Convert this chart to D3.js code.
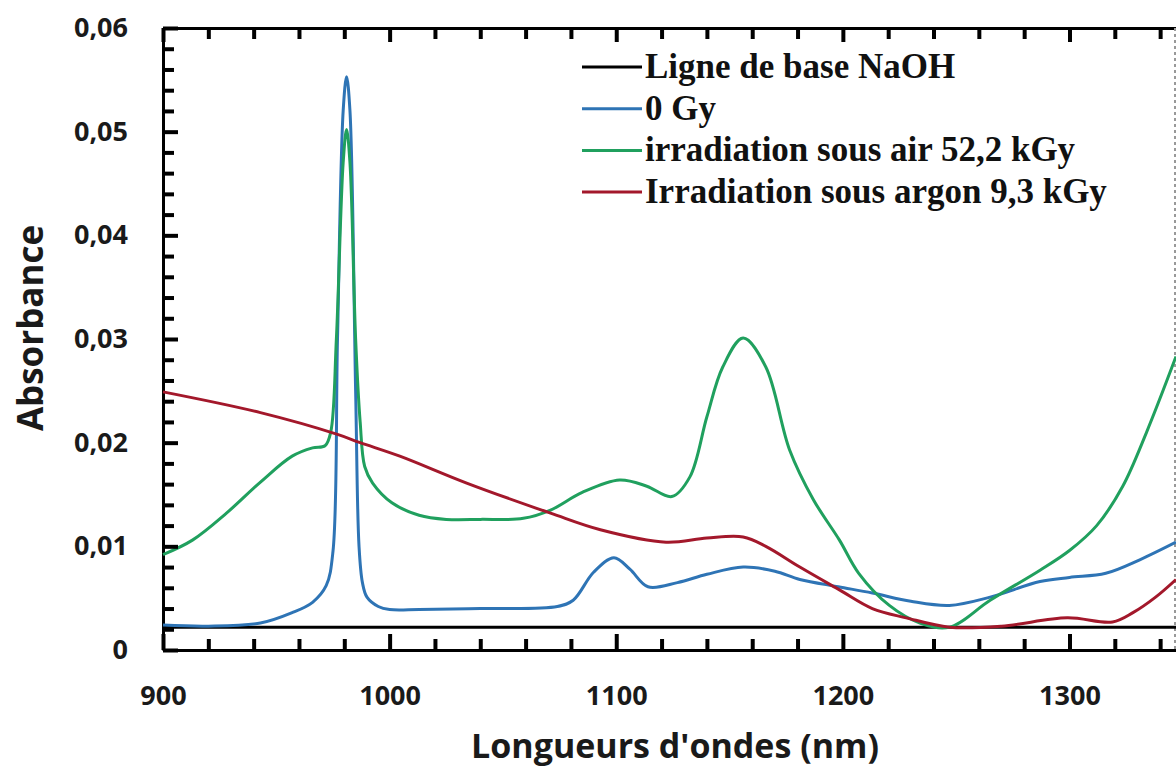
<!DOCTYPE html>
<html>
<head>
<meta charset="utf-8">
<script src="https://cdn.jsdelivr.net/npm/d3@7"></script>
<style>
  body { margin: 0; background: #fff; }
  .tick text { font-family: "Open Sans", sans-serif; font-weight: bold; font-size: 27px; fill: #1a1a1a; }
  .axis path.domain { stroke: #000; stroke-width: 3; }
</style>
</head>
<body>
<svg id="chart" width="1176" height="769"></svg>
<script>
"use strict";

// wavelengths (nm) and absorbance, one pair of arrays per curve
let baseNm  = [900, 1347]
let baseAbs = [0.0022, 0.0022]

let gy0Nm  = [900, 920, 943, 957, 966, 972, 975, 977, 979.5, 981, 982.5, 985, 986.5, 988, 990, 995, 1000, 1013, 1040, 1074, 1081, 1090, 1099, 1106, 1114, 1127, 1140, 1156, 1170, 1181, 1198, 1213, 1230, 1247, 1265, 1287, 1300, 1316, 1331, 1347]
let gy0Abs = [0.0024, 0.0023, 0.0026, 0.0036, 0.0046, 0.0062, 0.0095, 0.030, 0.052, 0.0553, 0.052, 0.025, 0.010, 0.0065, 0.0051, 0.0042, 0.0039, 0.0039, 0.0040, 0.0042, 0.0048, 0.0075, 0.0089, 0.0078, 0.0061, 0.0065, 0.0073, 0.0080, 0.0076, 0.0068, 0.0061, 0.0055, 0.0047, 0.0043, 0.0051, 0.0066, 0.0070, 0.0074, 0.0087, 0.0104]

let airNm  = [900, 913, 928, 943, 957, 966, 971.5, 974, 976.5, 979.5, 981, 982.5, 985, 987, 989, 992.5, 1001, 1013, 1025, 1040, 1059, 1071, 1085, 1101.5, 1113.5, 1124.5, 1132.5, 1140, 1147, 1156, 1166, 1176.5, 1187, 1198.5, 1207, 1220.5, 1234, 1247, 1265, 1287, 1300, 1312, 1323.5, 1334, 1347]
let airAbs = [0.0092, 0.0106, 0.0132, 0.0162, 0.0187, 0.0195, 0.0197, 0.021, 0.030, 0.047, 0.0502, 0.047, 0.030, 0.022, 0.0177, 0.0161, 0.0142, 0.0130, 0.0126, 0.0126, 0.0127, 0.0135, 0.0152, 0.0164, 0.0158, 0.0148, 0.0167, 0.0225, 0.0273, 0.0301, 0.0273, 0.0193, 0.0145, 0.0106, 0.0074, 0.0043, 0.0026, 0.0022, 0.0048, 0.0077, 0.0096, 0.0120, 0.0158, 0.0210, 0.0283]

let argonNm  = [900, 943, 977, 987, 1004.5, 1034, 1071, 1093, 1122, 1140, 1156, 1166, 1181, 1198.5, 1213, 1228, 1247, 1270, 1299, 1319, 1328, 1338, 1347]
let argonAbs = [0.0249, 0.0229, 0.0208, 0.0200, 0.0187, 0.0161, 0.0132, 0.0116, 0.0104, 0.0108, 0.0109, 0.0100, 0.0080, 0.0058, 0.0040, 0.0031, 0.0022, 0.0023, 0.0031, 0.0027, 0.0036, 0.0051, 0.0068]

let seriesNames  = ["Ligne de base NaOH", "0 Gy", "irradiation sous air 52,2 kGy", "Irradiation sous argon 9,3 kGy"]
let seriesColors = ["#000000", "#2e74b5", "#20a05e", "#a3182b"]

let xMajorTicks = [900, 1000, 1100, 1200, 1300]
let yMajorTicks = [0, 0.01, 0.02, 0.03, 0.04, 0.05, 0.06]

let svg = d3.select("#chart")

let x = d3.scaleLinear().domain([900, 1347]).range([163, 1176])
let y = d3.scaleLinear().domain([0, 0.06]).range([650, 28])

let fmt = d => d === 0 ? "0" : d3.format(".2f")(d).replace(".", ",")

let xMinor = d3.range(900, 1347, 20)
let yMinor = d3.range(0, 0.0601, 0.002)

// frame + labels from d3 axes
svg.append("g").attr("class", "axis")
    .attr("transform", "translate(0,650)")
    .call(d3.axisBottom(x).tickValues(xMajorTicks).tickSize(0).tickPadding(36).tickFormat(d3.format("d")))
svg.append("g").attr("class", "axis")
    .attr("transform", "translate(0,28)")
    .call(d3.axisTop(x).tickValues([]).tickSize(0))
svg.append("g").attr("class", "axis")
    .attr("transform", "translate(163,0)")
    .call(d3.axisLeft(y).tickValues(yMajorTicks).tickSize(0).tickPadding(35).tickFormat(fmt))

// right frame is cut by the picture edge, only a faint line shows
svg.append("line")
    .attr("x1", 1175).attr("x2", 1175)
    .attr("y1", y(0.06)).attr("y2", y(0))
    .attr("stroke", "#999").attr("stroke-width", 2).attr("stroke-dasharray", "3,3")

let line = d3.line()
    .x(d => x(d[0]))
    .y(d => y(d[1]))
    .curve(d3.curveCatmullRom.alpha(0.5))

let curves = [
  [baseNm, baseAbs, 0],
  [gy0Nm, gy0Abs, 1],
  [airNm, airAbs, 2],
  [argonNm, argonAbs, 3]
]

for (let [nm, abs, i] of curves) {
  svg.append("path")
      .datum(d3.zip(nm, abs))
      .attr("fill", "none")
      .attr("stroke", seriesColors[i])
      .attr("stroke-width", 3)
      .attr("stroke-linejoin", "round")
      .attr("d", line)
}

// legend
let legend = svg.append("g").attr("transform", "translate(582,67)")
seriesNames.forEach((name, i) => {
  let row = legend.append("g").attr("transform", "translate(0," + (i * 41.7) + ")")
  row.append("line")
      .attr("x1", 0).attr("x2", 60)
      .attr("stroke", seriesColors[i]).attr("stroke-width", 3)
  row.append("text")
      .attr("x", 63).attr("y", 11)
      .attr("font-family", "'Liberation Serif', 'Times New Roman', serif")
      .attr("font-weight", "bold")
      .attr("font-size", 35)
      .attr("fill", "#111")
      .text(name)
})

// axis titles
svg.append("text")
    .attr("x", 675).attr("y", 758)
    .attr("text-anchor", "middle")
    .attr("font-family", "'Open Sans', sans-serif")
    .attr("font-weight", "bold")
    .attr("font-size", 34)
    .attr("fill", "#1a1a1a")
    .text("Longueurs d'ondes (nm)")

svg.append("text")
    .attr("transform", "translate(43,328) rotate(-90)")
    .attr("text-anchor", "middle")
    .attr("font-family", "'Open Sans', sans-serif")
    .attr("font-weight", "bold")
    .attr("font-size", 35)
    .attr("fill", "#1a1a1a")
    .text("Absorbance")

// inward tick marks, drawn last so nothing sits on top of them
let ticks = svg.append("g").attr("stroke", "black").attr("stroke-width", 4)

// bottom: pointing up
ticks.selectAll(".xb").data(xMinor).join("line").attr("class", "xb")
    .attr("x1", d => x(d) + 0.5).attr("x2", d => x(d) + 0.5)
    .attr("y1", 650).attr("y2", d => xMajorTicks.includes(d) ? 634 : 639)
// top: pointing down
ticks.selectAll(".xt").data(xMinor).join("line").attr("class", "xt")
    .attr("x1", d => x(d) + 0.5).attr("x2", d => x(d) + 0.5)
    .attr("y1", 28).attr("y2", d => xMajorTicks.includes(d) ? 42 : 39)
// left: pointing right
ticks.selectAll(".yl").data(yMinor).join("line").attr("class", "yl")
    .attr("y1", d => y(d) + 0.5).attr("y2", d => y(d) + 0.5)
    .attr("x1", 163).attr("x2", (d, i) => i % 5 === 0 ? 178 : 174)
</script>
</body>
</html>
